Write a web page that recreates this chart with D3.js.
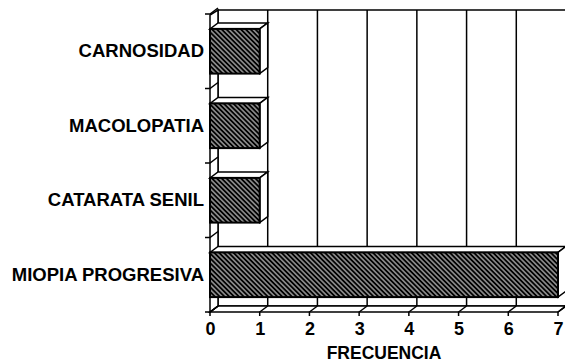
<!DOCTYPE html>
<html>
<head>
<meta charset="utf-8">
<script src="https://cdn.jsdelivr.net/npm/d3@7"></script>
<style>
  body { margin: 0; background: #fff; }
  svg text { font-family: "Liberation Sans", Arial, Helvetica, sans-serif; font-weight: bold; fill: #000; }
</style>
</head>
<body>
<div id="chart"></div>
<script>
const categories = ["CARNOSIDAD", "MACOLOPATIA", "CATARATA SENIL", "MIOPIA PROGRESIVA"];
const values = [1, 1, 1, 7];
const xTicks = [0, 1, 2, 3, 4, 5, 6, 7];
const xTitle = "FRECUENCIA";

const width = 565, height = 363;
const depth = { dx: 8, dy: 6 };   // 3d offset of the back wall

const svg = d3.select("#chart").append("svg")
    .attr("width", width)
    .attr("height", height);

// hatch pattern for the bars
const pat = svg.append("defs").append("pattern")
    .attr("id", "hatch")
    .attr("patternUnits", "userSpaceOnUse")
    .attr("width", 3.4)
    .attr("height", 3.4)
    .attr("patternTransform", "rotate(-45)");
pat.append("rect").attr("width", 3.4).attr("height", 3.4).attr("fill", "#000");
pat.append("line").attr("x1", 1.7).attr("x2", 1.7).attr("y1", 0).attr("y2", 3.4)
    .attr("stroke", "#fff").attr("stroke-width", 0.9);

const x = d3.scaleLinear().domain([0, 7]).range([210, 558]);
const y = d3.scaleBand().domain(categories).range([14, 312])
    .paddingInner(0.4).paddingOuter(0.2);

const x0 = x(0), x1 = x(7), yTop = 14, yBot = 312;
const dx = depth.dx, dy = depth.dy;
const line = d3.line();
const stroke = "#000", sw = 1.5;

// back wall
svg.append("rect")
    .attr("x", x0 + dx).attr("y", yTop - dy + 2)
    .attr("width", x1 - x0).attr("height", yBot - yTop - 2)
    .attr("fill", "#fff").attr("stroke", stroke).attr("stroke-width", sw);

// grid lines on back wall
svg.append("g").selectAll("line")
    .data(xTicks.filter(d => d > 0))
    .join("line")
    .attr("x1", d => x(d) + dx).attr("x2", d => x(d) + dx)
    .attr("y1", yTop - dy + 2).attr("y2", yBot - dy)
    .attr("stroke", stroke).attr("stroke-width", sw);

// floor
svg.append("path")
    .attr("d", line([[x0, yBot], [x1, yBot], [x1 + dx, yBot - dy], [x0 + dx, yBot - dy]]) + "Z")
    .attr("fill", "#fff").attr("stroke", stroke).attr("stroke-width", sw);

// left wall
svg.append("path")
    .attr("d", line([[x0, yBot], [x0, yTop + 1], [x0 + dx, yTop - dy + 2], [x0 + dx, yBot - dy]]) + "Z")
    .attr("fill", "#fff").attr("stroke", stroke).attr("stroke-width", sw);

// floor ticks
svg.append("g").selectAll("path")
    .data(xTicks)
    .join("path")
    .attr("d", d => line([[x(d), yBot + 4], [x(d), yBot], [x(d) + dx, yBot - dy]]))
    .attr("fill", "none").attr("stroke", stroke).attr("stroke-width", sw);

// left wall ticks at band boundaries
const bounds = d3.range(categories.length + 1).map(i => yTop + i * y.step());
svg.append("g").selectAll("path")
    .data(bounds)
    .join("path")
    .attr("d", d => line([[x0 - 5, d], [x0, d], [x0 + dx, d - dy]]))
    .attr("fill", "none").attr("stroke", stroke).attr("stroke-width", sw);

// bars
const data = categories.map((c, i) => ({ cat: c, value: values[i] }));
const bars = svg.append("g").selectAll("g")
    .data(data)
    .join("g");

// top face
bars.append("path")
    .attr("d", d => {
        const yy = y(d.cat), xe = x(d.value);
        return line([[x0, yy], [xe, yy], [xe + dx, yy - dy], [x0 + dx, yy - dy]]) + "Z";
    })
    .attr("fill", "#fff").attr("stroke", stroke).attr("stroke-width", sw);

// side face
bars.append("path")
    .attr("d", d => {
        const yy = y(d.cat), xe = x(d.value), h = y.bandwidth();
        return line([[xe, yy], [xe + dx, yy - dy], [xe + dx, yy + h - dy], [xe, yy + h]]) + "Z";
    })
    .attr("fill", "#fff").attr("stroke", stroke).attr("stroke-width", sw);

// front face
bars.append("rect")
    .attr("x", x0)
    .attr("y", d => y(d.cat))
    .attr("width", d => x(d.value) - x0)
    .attr("height", y.bandwidth())
    .attr("fill", "url(#hatch)")
    .attr("stroke", stroke).attr("stroke-width", 2);

// x axis labels
const xAxis = svg.append("g")
    .attr("transform", `translate(0,${yBot})`)
    .call(d3.axisBottom(x).tickValues(xTicks).tickFormat(d3.format("d")).tickSize(4).tickPadding(6));
xAxis.select(".domain").remove();
xAxis.selectAll("line").remove();
xAxis.selectAll("text").style("font-size", "18px");

// y axis labels
const yAxis = svg.append("g")
    .attr("transform", `translate(${x0},0)`)
    .call(d3.axisLeft(y).tickSize(0).tickPadding(6));
yAxis.select(".domain").remove();
yAxis.selectAll("text").style("font-size", "18.5px");

// axis title
svg.append("text")
    .attr("x", 384).attr("y", 359)
    .attr("text-anchor", "middle")
    .style("font-size", "17.5px")
    .text(xTitle);
</script>
</body>
</html>
